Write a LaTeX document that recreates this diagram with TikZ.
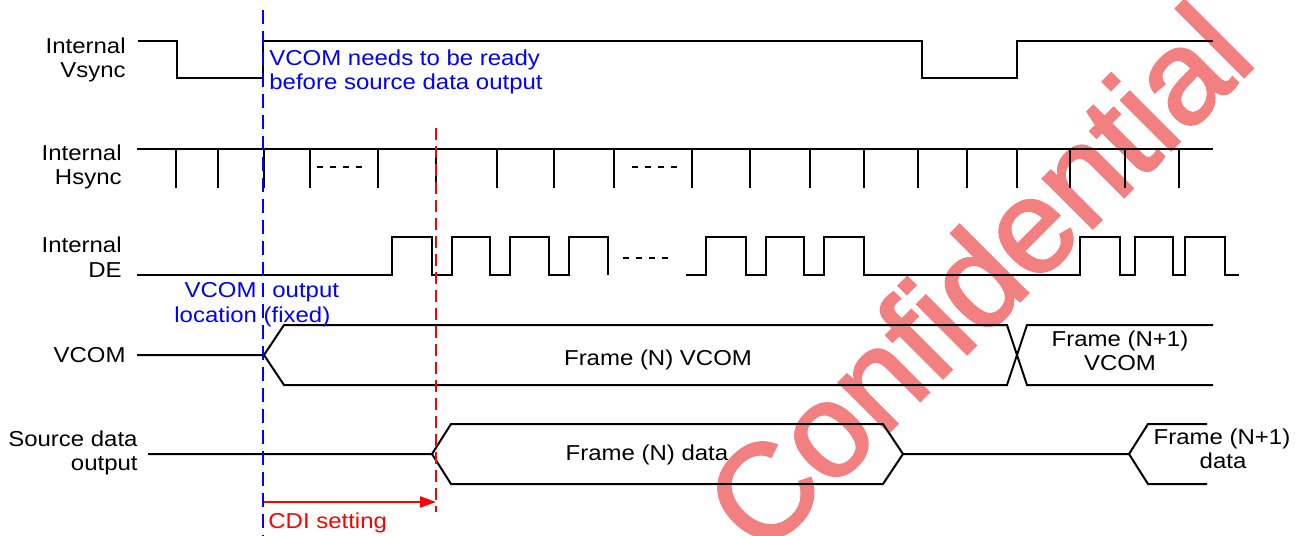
\documentclass[tikz,border=0pt]{standalone}
\usepackage{fontspec}
\setmainfont[FakeStretch=1.11]{Liberation Sans}
\newfontfamily\wmfont[FakeBold=2]{Liberation Sans}
\usetikzlibrary{arrows.meta}
\definecolor{wmred}{RGB}{242,128,128}
\tikzset{
  sig/.style={draw=black, line width=1pt},
  dotline/.style={draw=black, line width=0.9pt, dash pattern=on 3pt off 3.5pt},
  lbl/.style={font=\fontsize{10.8}{12}\selectfont, inner sep=0pt, text=black},
  bluelbl/.style={lbl, text=blue},
  redlbl/.style={lbl, text=red},
  bluedash/.style={draw=blue, line width=1pt, dash pattern=on 7pt off 3.5pt},
  reddash/.style={draw=red, line width=1pt, dash pattern=on 6pt off 3pt},
  wm/.style={font=\wmfont\fontsize{66.5}{70}\selectfont, text=wmred, inner sep=0pt, rotate=45}
}
\begin{document}
\begin{tikzpicture}[x=0.5pt,y=-0.5pt]
\useasboundingbox (0,0) rectangle (1303,536);
\fill[white] (0,0) rectangle (1303,536);

% signal labels
\node[lbl, anchor=base east] (vs1) at (126,53) {Internal};
\node[lbl, anchor=base east] (vs2) at (126,77) {Vsync};
\node[lbl, anchor=base east] (hs1) at (122,160) {Internal};
\node[lbl, anchor=base east] (hs2) at (122,184) {Hsync};
\node[lbl, anchor=base east] (de1) at (122,252) {Internal};
\node[lbl, anchor=base east] (de2) at (122,277) {DE};
\node[lbl, anchor=base east] (vc1) at (126,362) {VCOM};
\node[lbl, anchor=base east] (sd1) at (138,446) {Source data};
\node[lbl, anchor=base east] (sd2) at (138,470) {output};

% Vsync
\draw[sig] (138,41) -| (177,78) -| (263,41) -| (922,78) -| (1017,41) -- (1213,41);

% Hsync
\draw[sig] (137,149) -- (1213,149);
\foreach \x in {176,218,264,310,378,436,497,554,614,692,750,810,864,918,967,1017,1070,1125,1179}
  \draw[sig] (\x,149) -- (\x,188);
\draw[dotline] (317,167) -- (369,167);
\draw[dotline] (632,167) -- (683,167);

% DE
\draw[sig] (137,275) -- (392,275) |- (432,237) |- (452,275) |- (490,237) |- (510,275) |- (549,237) |- (569,275) |- (608,237) -- (608,275);
\draw[dotline] (623,258) -- (673,258);
\draw[sig] (686,275) -- (706,275) |- (746,237) |- (766,275) |- (804,237) |- (824,275) |- (864,237) |- (1080,275) |- (1120,237) |- (1135,275) |- (1173,237) |- (1185,275) |- (1225,237) |- (1239,275);

% VCOM
\draw[sig] (137,355) -- (264,355) -- (284,325) -- (1007,325) -- (1027,385) -- (1213,385);
\draw[sig] (264,355) -- (284,385) -- (1007,385) -- (1027,325) -- (1213,325);
\node[lbl, anchor=base] (fnv) at (658,365) {Frame (N) VCOM};
\node[lbl, anchor=base] (fn1v1) at (1120,346) {Frame (N+1)};
\node[lbl, anchor=base] (fn1v2) at (1120,370) {VCOM};

% Source data
\draw[sig] (148,454) -- (432,454) -- (451,424) -- (883,424) -- (903,454) -- (1129,454) -- (1148,424) -- (1207,424);
\draw[sig] (432,454) -- (451,484) -- (883,484) -- (903,454);
\draw[sig] (1129,454) -- (1148,484) -- (1207,484);
\node[lbl, anchor=base] (fnd) at (647,460) {Frame (N) data};
\node[lbl, anchor=base] (fn1d1) at (1222,444) {Frame (N+1)};
\node[lbl, anchor=base] (fn1d2) at (1223,468) {data};

% markers
\coordinate (bT) at (263,10);
\coordinate (bB) at (263,536);
\draw[bluedash] (bT) -- (bB);
\coordinate (rT) at (436,128);
\coordinate (rB) at (436,512);
\draw[reddash] (rT) -- (rB);
\coordinate (aS) at (264,502);
\coordinate (aE) at (436,502);
\draw[red, line width=1pt, -{Triangle[length=8pt,width=5.5pt]}] (aS) -- (aE);

\node[bluelbl, anchor=base west] (bt1) at (269,65) {VCOM needs to be ready};
\node[bluelbl, anchor=base west] (bt2) at (269,89) {before source data output};
\node[bluelbl, anchor=base east] (vo1) at (257,297) {VCOM};
\node[bluelbl, anchor=base west] (vo2) at (272,297) {output};
\node[bluelbl, anchor=base west] (vo3) at (174,322) {location (fixed)};
\node[redlbl, anchor=base west] (cdi) at (268,528) {CDI setting};

% watermark
\begin{scope}[blend mode=darken]
\clip (0,0) rectangle (1303,536);
\node[wm, anchor=base west] (conf) at (762,559) {Confidential};
\end{scope}
\end{tikzpicture}
\end{document}
